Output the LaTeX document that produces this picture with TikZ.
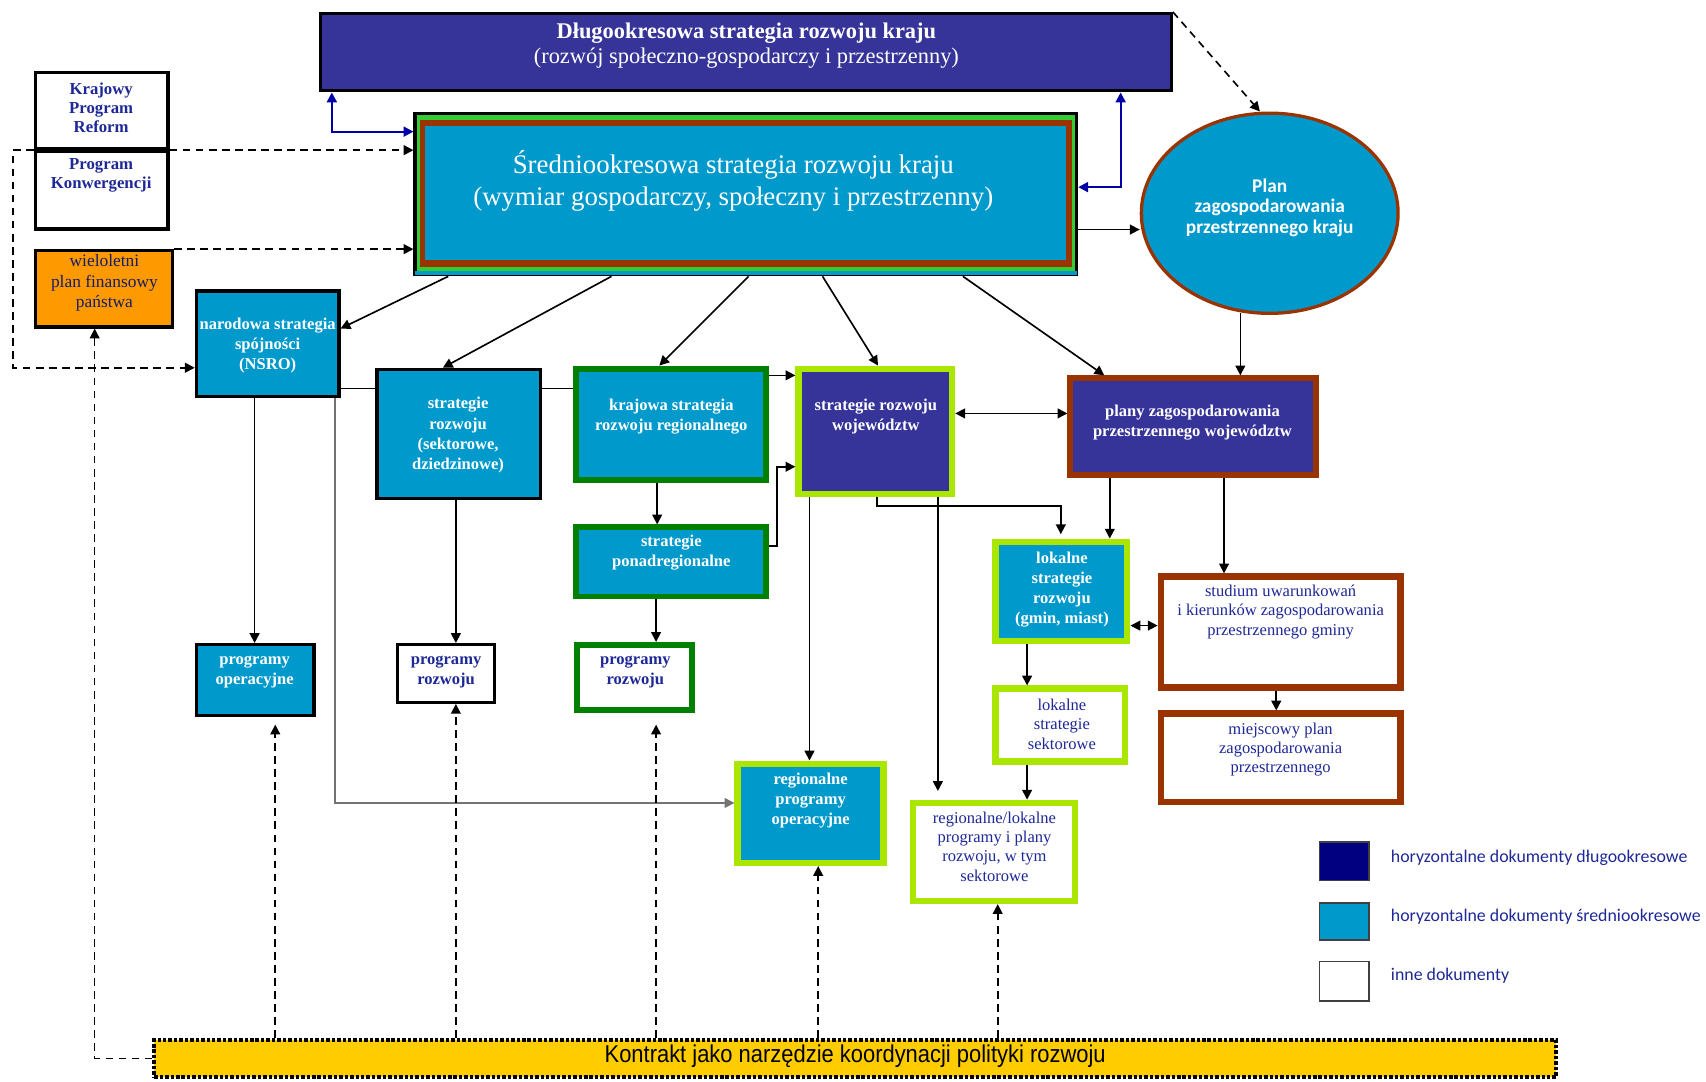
\documentclass[tikz,border=0pt]{standalone}
\usepackage{fontspec}
\setmainfont{Liberation Serif}
\newfontfamily\narrowsans[FakeStretch=0.9]{Liberation Sans}
\newfontfamily\humsans{Carlito}
\usetikzlibrary{arrows.meta,fit,calc,shapes.geometric}
\definecolor{indigoc}{RGB}{55,52,153}
\definecolor{medblue}{RGB}{0,153,204}
\definecolor{bandgreen}{RGB}{51,204,51}
\definecolor{brownc}{RGB}{153,51,0}
\definecolor{dkgreen}{RGB}{0,128,0}
\definecolor{ltgreen}{RGB}{170,230,0}
\definecolor{orangec}{RGB}{255,153,0}
\definecolor{yellowc}{RGB}{255,204,0}
\definecolor{navyc}{RGB}{0,0,128}
\definecolor{txtnavy}{RGB}{30,40,150}
\definecolor{arrblue}{RGB}{0,0,165}
\newcommand\mybox[7]{\node[#1, fit={(#3+#7,#4+#7) (#5-#7,#6-#7)}, inner sep=0pt] (#2) {};}
\begin{document}
\begin{tikzpicture}[x=0.5pt,y=-0.5pt,
  blackblue/.style={draw=black, fill=medblue, line width=1.5pt},
  blackwhite/.style={draw=black, fill=white, line width=1.5pt},
  darkbox/.style={draw=black, fill=indigoc, line width=1.5pt},
  dgblue/.style={draw=dkgreen, fill=medblue, line width=2.75pt},
  dgwhite/.style={draw=dkgreen, fill=white, line width=2.75pt},
  lgblue/.style={draw=ltgreen, fill=medblue, line width=3pt},
  lgwhite/.style={draw=ltgreen, fill=white, line width=3pt},
  lgdark/.style={draw=ltgreen, fill=indigoc, line width=3pt},
  brdark/.style={draw=brownc, fill=indigoc, line width=2.5pt},
  brwhite/.style={draw=brownc, fill=white, line width=3pt},
  orbox/.style={draw=black, fill=orangec, line width=1.5pt},
  kbox/.style={draw=black, fill=yellowc, line width=1.8pt, dash pattern=on 1.6pt off 0.9pt},
  legbox/.style={draw=black!75, line width=0.8pt},
  wtxt/.style={text=white, align=center, inner sep=0pt, font=\bfseries\fontsize{7.6}{9.25}\selectfont},
  ntxt/.style={text=txtnavy, align=center, inner sep=0pt, font=\bfseries\fontsize{7.6}{9.25}\selectfont},
  rtxt/.style={text=txtnavy, align=center, inner sep=0pt, font=\fontsize{7.6}{8.9}\selectfont},
  legtxt/.style={text=txtnavy, anchor=west, inner sep=0pt, font=\humsans\fontsize{8.2}{9.5}\selectfont},
  tip/.tip={Triangle[length=4.5pt,width=4.5pt]},
  arr/.style={draw=black, line width=0.75pt, -tip},
  ln/.style={draw=black, line width=0.75pt},
  darr/.style={draw=black, line width=0.75pt, dash pattern=on 3.5pt off 2.5pt, -tip},
  barr/.style={draw=arrblue, line width=1pt, tip-tip}]
\useasboundingbox (0,0) rectangle (1568,994);

% ---------- boxes ----------
\mybox{darkbox}{dlugo}{293}{11}{1078}{85}{1.5}
\mybox{blackwhite}{kpr}{31}{65}{156}{138}{1.5}
\mybox{blackwhite}{konw}{31}{138}{156}{212}{1.5}
\mybox{orbox}{wpf}{31}{229}{160}{302}{1.5}

\mybox{draw=black, fill=bandgreen, line width=1.5pt}{sred}{380}{103}{991}{254}{1.5}
\fill[brownc] ($(sred.north west)+(6,7)$) rectangle ($(sred.south east)+(-6,-9)$);
\fill[medblue] ($(sred.north west)+(11,13)$) rectangle ($(sred.south east)+(-11,-15)$);
\fill[medblue] ($(sred.south west)+(1.5,-5)$) rectangle ($(sred.south east)+(-1.5,-1.5)$);

\node[ellipse, draw=brownc, fill=medblue, line width=1.5pt, minimum width=118pt, minimum height=92pt, inner sep=0pt] (plan) at (1167,196) {};

\mybox{blackblue}{nsro}{179}{266}{313}{366}{1.5}
\mybox{blackblue}{strat}{345}{338}{498}{460}{1.5}
\mybox{dgblue}{kraj}{527}{336}{707}{444}{2.75}
\mybox{dgblue}{ponad}{527}{482}{707}{551}{2.75}
\mybox{lgdark}{woj}{731}{336}{878}{457}{3}
\mybox{brdark}{plany}{981}{345}{1212}{439}{2.5}
\mybox{blackblue}{progop}{179}{591}{290}{659}{1.5}
\mybox{blackwhite}{progra}{364}{591}{456}{647}{1.5}
\mybox{dgwhite}{prograb}{528}{590}{639}{655}{2.75}
\mybox{lgblue}{lsr}{912}{495}{1039}{592}{3}
\mybox{brwhite}{stud}{1064}{527}{1290}{635}{3}
\mybox{brwhite}{mpzp}{1064}{653}{1290}{740}{3}
\mybox{lgwhite}{lss}{912}{630}{1037}{703}{3}
\mybox{lgblue}{rpo}{675}{699}{815}{796}{3}
\mybox{lgwhite}{rlp}{836}{735}{991}{831}{3}
\mybox{kbox}{kontrakt}{140}{954}{1432}{992}{1.8}

\mybox{legbox, fill=navyc}{lega}{1212}{773}{1259}{810}{0.8}
\mybox{legbox, fill=medblue}{legb}{1212}{829}{1259}{865}{0.8}
\mybox{legbox, fill=white}{legc}{1212}{883}{1259}{921}{0.8}

% ---------- texts ----------
\node[text=white, align=center, inner sep=0pt, font=\fontsize{10.3}{11.5}\selectfont] (tdlugo) at (686,42)
  {\textbf{Długookresowa strategia rozwoju kraju}\\(rozwój społeczno-gospodarczy i przestrzenny)};
\node[text=white, align=center, inner sep=0pt, font=\fontsize{12.35}{14.5}\selectfont] (tsred) at (674,166)
  {Średniookresowa strategia rozwoju kraju\\(wymiar gospodarczy, społeczny i przestrzenny)};
\node[ntxt, font=\bfseries\fontsize{7.7}{8.75}\selectfont] (tkpr) at (93,99) {Krajowy\\Program\\Reform};
\node[ntxt, font=\bfseries\fontsize{7.7}{8.75}\selectfont] (tkonw) at (93,161) {Program\\Konwergencji};
\node[rtxt, text=txtnavy!70!black, font=\fontsize{8}{9.5}\selectfont] (twpf) at (96,260) {wieloletni\\plan finansowy\\państwa};
\node[text=white, align=center, inner sep=0pt, font=\humsans\bfseries\fontsize{8.9}{9.5}\selectfont] (tplan) at (1167,191)
  {Plan\\zagospodarowania\\przestrzennego kraju};
\node[wtxt] (tnsro) at (246,317.5) {narodowa strategia\\spójności\\(NSRO)};
\node[wtxt] (tstrat) at (421,400) {strategie\\rozwoju\\(sektorowe,\\dziedzinowe)};
\node[wtxt] (tkraj) at (617,382.5) {krajowa strategia\\rozwoju regionalnego};
\node[wtxt] (tponad) at (617,508) {strategie\\ponadregionalne};
\node[wtxt] (twoj) at (805,382.5) {strategie rozwoju\\województw};
\node[wtxt] (tplany) at (1096,388.5) {plany zagospodarowania\\przestrzennego województw};
\node[wtxt] (tprogop) at (234,617.5) {programy\\operacyjne};
\node[ntxt] (tprogra) at (410,617.5) {programy\\rozwoju};
\node[ntxt] (tprograb) at (584,617.5) {programy\\rozwoju};
\node[wtxt] (tlsr) at (976,542) {lokalne\\strategie\\rozwoju\\(gmin, miast)};
\node[rtxt] (tstud) at (1177,562.5) {studium uwarunkowań\\i kierunków zagospodarowania\\przestrzennego gminy};
\node[rtxt] (tmpzp) at (1177,689) {miejscowy plan\\zagospodarowania\\przestrzennego};
\node[rtxt] (tlss) at (976,665.5) {lokalne\\strategie\\sektorowe};
\node[wtxt] (trpo) at (745,735.5) {regionalne\\programy\\operacyjne};
\node[rtxt] (trlp) at (914,778) {regionalne/lokalne\\programy i plany\\rozwoju, w tym\\sektorowe};
\node[inner sep=0pt, font=\narrowsans\fontsize{11.2}{12}\selectfont] (tkontrakt) at (786,971) {Kontrakt jako narzędzie koordynacji polityki rozwoju};
\node[legtxt] (tlega) at (1278,788) {horyzontalne dokumenty długookresowe};
\node[legtxt] (tlegb) at (1278,843) {horyzontalne dokumenty średniookresowe};
\node[legtxt] (tlegc) at (1278,897) {inne dokumenty};

% ---------- connectors ----------
\draw[barr] (dlugo.south -| 305,0) |- (sred.west |- 0,121);
\draw[barr] (dlugo.south -| 1030,0) |- (sred.east |- 0,172);
\draw[darr] (konw.north east) -- (sred.west |- konw.north east);
\draw[darr] (konw.north west) -- (12,0 |- konw.north west) |- (nsro.west |- 0,338);
\draw[darr] (wpf.north east) -- (sred.west |- wpf.north east);
\draw[darr] (kontrakt.west) -| (wpf.south -| 87,0);
\draw[arr] (sred.east |- 0,211) -- (plan.west |- 0,211);
\draw[darr] (dlugo.north east) -- (plan.north -| 1158,0);
\draw[arr] (1140,288) -- (plany.north -| 1140,0);

\draw[arr] (sred.south -| 412,0) -- (nsro.east |- 0,302);
\draw[arr] (sred.south -| 562,0) -- (strat.north -| 407,0);
\draw[arr] (sred.south -| 688,0) -- (kraj.north -| 606,0);
\draw[arr] (sred.south -| 756,0) -- (woj.north -| 807,0);
\draw[arr] (sred.south -| 885,0) -- (plany.north -| 1015,0);

\draw[ln] (nsro.east |- 0,357) -- (strat.west |- 0,357);
\draw[ln] (strat.east |- 0,357) -- (kraj.west |- 0,357);
\draw[arr] (kraj.east |- 0,345) -- (woj.west |- 0,345);
\draw[arr] (ponad.east |- 0,502) -- (714,502) |- (woj.west |- 0,429);
\draw[arr] (kraj.south -| 604,0) -- (ponad.north -| 604,0);
\draw[arr] (ponad.south -| 603,0) -- (prograb.north -| 603,0);
\draw[arr] (nsro.south -| 234,0) -- (progop.north -| 234,0);
\draw[arr] (strat.south -| 419,0) -- (progra.north -| 419,0);
\draw[arr, draw=black!55] (nsro.south -| 308,0) |- (rpo.west |- 0,738);

\draw[arr, tip-tip] (woj.east |- 0,380) -- (plany.west |- 0,380);
\draw[arr] (woj.south -| 744,0) -- (rpo.north -| 744,0);
\draw[arr, shorten >=4pt] (woj.south -| 862,0) -- (rlp.north -| 862,0);
\draw[arr, shorten >=2pt] (woj.south -| 806,0) -- (806,465) -| (lsr.north -| 975,0);
\draw[arr] (plany.south -| 1020,0) -- (lsr.north -| 1020,0);
\draw[arr] (plany.south -| 1125,0) -- (stud.north -| 1125,0);
\draw[arr, tip-tip] (lsr.east |- 0,575) -- (stud.west |- 0,575);
\draw[arr] (stud.south -| 1173,0) -- (mpzp.north -| 1173,0);
\draw[arr] (lsr.south -| 944,0) -- (lss.north -| 944,0);
\draw[arr] (lss.south -| 944,0) -- (rlp.north -| 944,0);

\draw[darr, shorten >=3.5pt] (kontrakt.north -| 253,0) -- (progop.south -| 253,0);
\draw[darr] (kontrakt.north -| 419,0) -- (progra.south -| 419,0);
\draw[darr, shorten >=5.5pt] (kontrakt.north -| 603,0) -- (prograb.south -| 603,0);
\draw[darr] (kontrakt.north -| 752,0) -- (rpo.south -| 752,0);
\draw[darr] (kontrakt.north -| 917,0) -- (rlp.south -| 917,0);
\end{tikzpicture}
\end{document}
